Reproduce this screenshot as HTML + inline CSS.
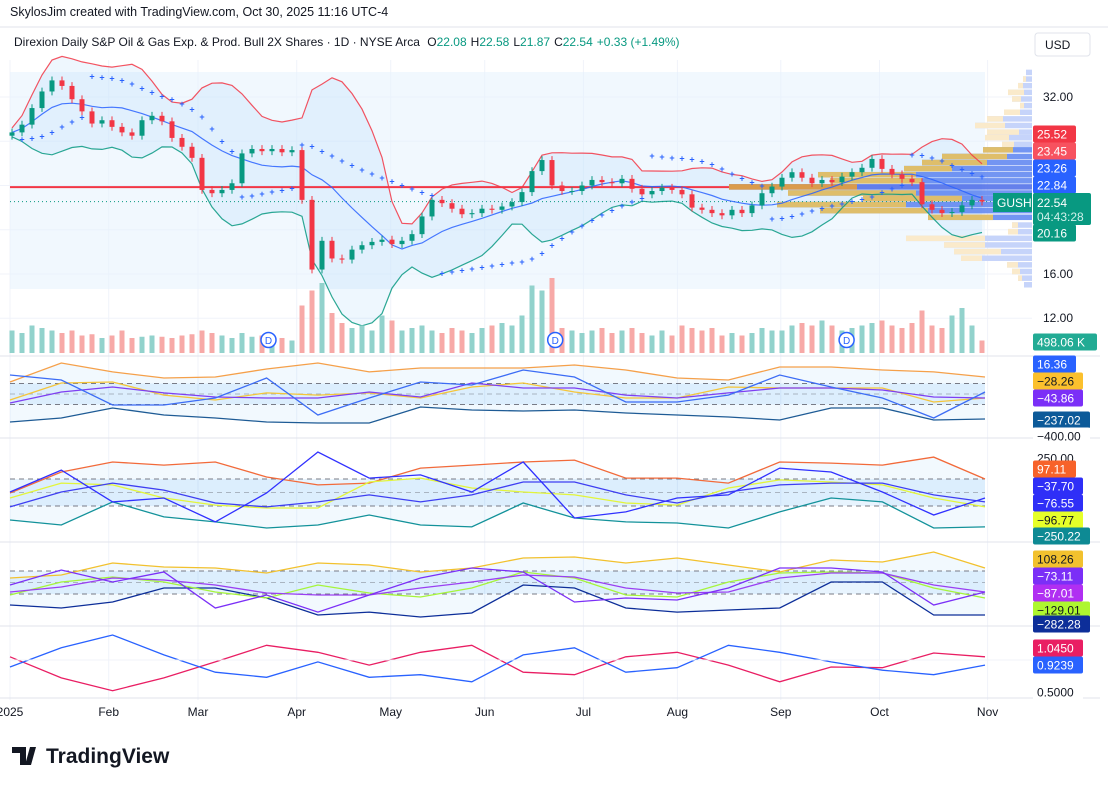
<!DOCTYPE html>
<html><head><meta charset="utf-8"><style>
body{margin:0;background:#fff;font-family:"Liberation Sans",sans-serif}
svg text{font-family:"Liberation Sans",sans-serif}
</style></head><body>
<svg id="c" width="1108" height="786" viewBox="0 0 1108 786" xmlns="http://www.w3.org/2000/svg">
<rect width="1108" height="786" fill="#fff"/>
<text x="10" y="16" font-size="12.5" fill="#131722">SkylosJim created with TradingView.com, Oct 30, 2025 11:16 UTC-4</text>
<line x1="0" y1="27" x2="1108" y2="27" stroke="#e0e3eb"/>
<text x="14" y="46" font-size="12" fill="#131722">Direxion Daily S&amp;P Oil &amp; Gas Exp. &amp; Prod. Bull 2X Shares · 1D · NYSE Arca <tspan dx="4">O</tspan><tspan fill="#089981">22.08</tspan><tspan dx="4">H</tspan><tspan fill="#089981">22.58</tspan><tspan dx="4">L</tspan><tspan fill="#089981">21.87</tspan><tspan dx="4">C</tspan><tspan fill="#089981">22.54</tspan><tspan dx="4" fill="#089981">+0.33 (+1.49%)</tspan></text>
<rect x="1035" y="33" width="55" height="23" rx="3" fill="#fff" stroke="#e0e3eb"/>
<text x="1045" y="49" font-size="12" fill="#131722">USD</text>
<g id="grid"></g>
<rect x="10" y="72" width="975" height="217" fill="#e3f2fd" opacity="0.5"/>
<g id="main"></g>
<g id="panes"></g>
<g id="axis"></g>
<g>
<path d="M12 747h14v18h-6v-12h-8z M30 747h6l-5 18h-6z" fill="#131722"/>
<text x="46" y="763" font-size="21" font-weight="bold" fill="#131722">TradingView</text>
</g>
</svg>
<script>
const closes=[28.8,29.5,31,32.5,33.5,33,31.8,30.7,29.6,29.9,29.3,28.8,28.5,29.9,30.3,29.8,28.3,27.5,26.5,23.6,23.3,23.6,24.2,26.9,27.3,27.1,27.3,27.0,27.2,22.7,16.4,19.0,17.4,17.3,18.2,18.6,18.9,19.1,18.7,19.0,19.6,21.2,22.7,22.4,21.9,21.4,21.5,21.9,21.8,22.1,22.5,23.4,25.3,26.3,24.0,23.5,23.5,24.0,24.5,24.3,24.2,24.6,23.7,23.2,23.5,23.8,23.6,23.2,22.0,21.8,21.5,21.3,21.8,21.5,22.2,23.3,23.9,24.7,25.2,24.7,24.2,24.5,24.3,24.8,25.2,25.6,26.4,25.5,25.0,24.6,24.3,22.3,21.8,21.5,21.6,22.2,22.7,22.54];
const volumes=[900,800,1100,1000,900,800,900,700,750,600,700,900,600,650,700,650,600,700,750,900,800,700,600,800,650,700,700,600,500,1900,2500,2800,1600,1200,1000,1100,900,1500,1300,900,1000,1100,900,800,1000,900,800,1000,1100,1200,1100,1500,2700,2500,3000,1000,900,800,900,1000,800,900,1000,800,700,900,700,1100,1000,900,1000,700,800,700,800,1000,900,900,1100,1200,1100,1300,1100,900,1000,1100,1200,1300,1100,1000,1200,1700,1100,1000,1500,1800,1100,500];
const priceTicks=[32,28,24,20,16,12];
const priceTickLabels=["32.00","","","","16.00","12.00"];
const monthLabels=["2025","Feb","Mar","Apr","May","Jun","Jul","Aug","Sep","Oct","Nov"];
const monthIdx=[0,21,40,61,81,101,122,142,164,185,208];
const dividendIdx=[55,116,178];
const vpPrice=[27.2,26.6,26.05,25.5,24.95,24.4,23.85,23.3,22.8,22.25,21.7,21.1];
const vpTotal=[49,90,110,128,214,202,303,244,169,255,212,104];
const vpOrange=[30,65,65,48,98,92,128,128,99,129,108,65];
const vpFaintPrice=[34.2,33.6,33.0,32.4,31.8,31.2,30.6,30.0,29.4,28.8,28.3,27.7,20.4,19.8,19.2,18.6,18.0,17.4,16.8,16.2,15.6,15.0];
const vpFaintTotal=[6,9,14,24,20,12,28,45,57,45,47,30,20,24,126,88,78,71,25,20,14,8];
const vpFaintOrange=[0,3,5,16,9,4,16,16,30,32,24,12,6,10,79,41,47,21,11,8,4,0];
const p1Upper=[114,295,210,152,162,238,295,210,248,248,248,276,229,152,133,257,257,229,210,162];
const p1Lower=[-267,-229,-133,-200,-229,-267,-276,-276,-124,-152,-162,-152,-181,-200,-219,-248,-133,-133,-248,-238];
const p1Yellow=[-57,105,114,-10,-57,10,-10,10,-38,67,105,19,-38,-38,67,57,57,57,-76,-38];
const p1Purple=[-86,19,67,10,-29,-38,-38,19,-29,105,57,57,-10,-38,10,57,57,38,-29,-38];
const p1Blue=[181,133,-105,-105,-38,152,-200,-38,114,86,229,162,-76,-76,-10,181,67,-38,-229,19];
const p2Upper=[-4,152,226,203,226,115,56,70,181,203,226,240,107,107,70,226,218,203,262,100];
const p2Lower=[-204,-241,-70,-181,-218,-263,-241,-167,-241,-255,-78,-189,-218,-226,-263,-144,-41,-70,-263,-255];
const p2Yellow=[-41,70,56,-41,-93,-115,-115,78,107,33,4,-18,-78,-93,33,93,78,56,-41,-107];
const p2Ma=[-107,4,70,18,-78,-107,-70,-18,-70,-18,78,78,-18,-78,4,56,70,70,-18,-70];
const p2Blue=[4,166,-70,-41,-218,-4,300,107,130,4,226,-189,-144,-41,-18,181,152,4,-167,-41];
const p3Upper=[39,65,170,135,126,83,170,152,91,126,213,222,170,213,152,91,196,178,265,126];
const p3Lower=[-196,-222,-170,-48,-48,-135,-283,-257,-300,-265,-22,-48,-222,-257,-239,-222,4,4,-283,-283];
const p3Lime=[-109,4,48,4,-83,-135,-22,-91,-126,-48,91,39,-109,-126,4,83,91,83,-48,-135];
const p3Purple=[-83,-39,39,22,-22,-91,-109,-109,-48,4,65,48,-48,-91,-83,39,83,83,-22,-83];
const p3Violet=[-22,109,4,91,-222,-109,-257,-109,39,126,91,-170,-135,-152,-48,126,126,91,-196,-83];
const p4Pink=[1.05,0.72,0.52,0.72,0.97,1.23,1.12,0.92,1.12,1.23,0.81,0.77,1.05,1.12,0.92,0.66,0.89,0.88,1.11,1.05];
const p4Blue=[0.89,1.19,1.39,1.08,0.81,0.73,0.97,0.73,0.77,0.66,1.08,1.19,0.81,0.88,1.23,1.12,0.97,0.84,0.77,0.92];

const NS="http://www.w3.org/2000/svg";
function mk(parent,tag,attrs){const e=document.createElementNS(NS,tag);for(const k in attrs)e.setAttribute(k,attrs[k]);parent.appendChild(e);return e;}
const G=document.getElementById('grid'),M=document.getElementById('main'),P=document.getElementById('panes'),A=document.getElementById('axis');
const xc=i=>12+10*i;
const xd=d=>10+d*4.7;
const py=p=>97+(32-p)*11.06;
const volY=v=>353-v*0.025;
const xi=i=>10+i*975/19;
const y1=v=>394-v*0.105, y2=v=>492.5-v*0.135, y3=v=>582.5-v*0.115, y4=v=>660-(v-1)*64;

monthIdx.forEach((d,k)=>{
  const l=mk(G,'line',{x1:xd(d),x2:xd(d),y1:60,y2:700,stroke:'#f0f3fa'});
  
  
  const t=mk(A,'text',{x:xd(d),y:716,'font-size':12,fill:'#131722','text-anchor':'middle'});
  t.textContent=monthLabels[k];
  
  
});
priceTicks.forEach((p,k)=>{
  const l=mk(G,'line',{x1:0,x2:1032,y1:py(p),y2:py(p),stroke:'#f0f3fa'});
  
  
  if(priceTickLabels[k]){const t=mk(A,'text',{x:1043,y:py(p)+4,'font-size':12,fill:'#131722'});t.textContent=priceTickLabels[k];
  
  }
});

const N=closes.length, per=10;
const up=[],mid=[],lo=[];
for(let i=0;i<N;i++){const s=closes.slice(Math.max(0,i-per+1),i+1);const m=s.reduce((a,b)=>a+b,0)/s.length;const sd=Math.sqrt(s.reduce((a,b)=>a+(b-m)*(b-m),0)/s.length);mid.push(m);up.push(m+2.2*sd+0.4);lo.push(m-2.2*sd-0.4);}
const pts=(arr,fx,fy)=>arr.map((v,i)=>fx(i).toFixed(1)+','+fy(v).toFixed(1)).join(' ');
const bbFill=mk(M,'polygon',{points:pts(up,xc,py)+' '+lo.map((v,i)=>xc(i)+','+py(v)).reverse().join(' '),fill:'#2196f3','fill-opacity':0.08});


vpFaintPrice.forEach((p,k)=>{const y=py(p)-3;
  const b=mk(M,'rect',{x:1032-vpFaintTotal[k],y:y,width:vpFaintTotal[k],height:5.5,fill:'#c6d4fa'});
  
  
  const o=mk(M,'rect',{x:1032-vpFaintTotal[k],y:y,width:vpFaintOrange[k],height:5.5,fill:'#faeacb'});
  
  
});
vpPrice.forEach((p,k)=>{const y=py(p)-3;
  const b=mk(M,'rect',{x:1032-vpTotal[k],y:y,width:vpTotal[k],height:5.5,fill:k==6?'#4a6ae8':'#5b82f0',opacity:0.85});
  
  
  const o=mk(M,'rect',{x:1032-vpTotal[k],y:y,width:vpOrange[k],height:5.5,fill:k==6?'#f0a030':'#f2c553',opacity:0.85});
  
  
});
const poc=mk(M,'line',{x1:10,x2:1032-vpTotal[6],y1:py(vpPrice[6]),y2:py(vpPrice[6]),stroke:'#f23645','stroke-width':2});


const lp=mk(M,'line',{x1:10,x2:1032,y1:py(closes[N-1]),y2:py(closes[N-1]),stroke:'#089981','stroke-dasharray':'1 3'});


[[up,'#f23645','bb-upper'],[mid,'#2962ff','bb-basis'],[lo,'#089981','bb-lower']].forEach(([a,c,n])=>{
  const l=mk(M,'polyline',{points:pts(a,xc,py),fill:'none',stroke:c,'stroke-width':1.2,opacity:0.85});
  
  
});
const hi=[],lw=[];
for(let i=0;i<N;i++){const o=i?closes[i-1]:closes[0]-0.3,c=closes[i];hi.push(Math.max(o,c)+0.35);lw.push(Math.min(o,c)-0.35);
  const g=c>=o;
  const vb=mk(M,'rect',{x:xc(i)-2.5,y:volY(volumes[i]),width:5,height:353-volY(volumes[i]),fill:g?'#92d2cc':'#f7a9a7'});
  
  
}
for(let i=0;i<N;i++){const o=i?closes[i-1]:closes[0]-0.3,c=closes[i],g=c>=o,col=g?'#089981':'#f23645';
  const w=mk(M,'line',{x1:xc(i),x2:xc(i),y1:py(hi[i]),y2:py(lw[i]),stroke:col});
  
  
  const b=mk(M,'rect',{x:xc(i)-2.5,y:py(Math.max(o,c)),width:5,height:Math.max(1,Math.abs(py(o)-py(c))),fill:col});
  
  
}
let bull=true,af=0.02,ep=hi[0],sar=lw[0];
for(let i=1;i<N;i++){sar=sar+af*(ep-sar);
  if(bull){if(lw[i]<sar){bull=false;sar=ep;ep=lw[i];af=0.02;}else if(hi[i]>ep){ep=hi[i];af=Math.min(0.2,af+0.02);}}
  else{if(hi[i]>sar){bull=true;sar=ep;ep=hi[i];af=0.02;}else if(lw[i]<ep){ep=lw[i];af=Math.min(0.2,af+0.02);}}
  const t=mk(M,'text',{x:xc(i),y:py(sar)+3,'font-size':9,'font-weight':'bold',fill:'#2962ff','text-anchor':'middle'});t.textContent='+';
  
  
}
dividendIdx.forEach(d=>{const g=mk(M,'g',{});
  
  
  mk(g,'circle',{cx:xd(d),cy:340,r:7.5,fill:'#fff',stroke:'#2962ff','stroke-width':1.5});
  const t=mk(g,'text',{x:xd(d),y:344,'font-size':10,fill:'#2962ff','text-anchor':'middle'});t.textContent='D';});

function pane(top,bot,ys,upper,lower,dash,lines,name){
  const g=mk(P,'g',{});
  
  
  mk(g,'line',{x1:0,x2:1100,y1:bot,y2:bot,stroke:'#e0e3eb'});
  if(upper){mk(g,'polygon',{points:pts(upper,xi,ys)+' '+lower.map((v,i)=>xi(i)+','+ys(v)).reverse().join(' '),fill:'#2196f3','fill-opacity':0.06});}
  if(dash){mk(g,'rect',{x:10,y:ys(dash),width:975,height:ys(-dash)-ys(dash),fill:'#2196f3','fill-opacity':0.1});
    [dash,0,-dash].forEach((d,k)=>mk(g,'line',{x1:10,x2:985,y1:ys(d),y2:ys(d),stroke:'#787b86','stroke-dasharray':'5 4',opacity:k==1?0.5:1}));}
  lines.forEach(([a,c,n])=>{const l=mk(g,'polyline',{points:pts(a,xi,ys),fill:'none',stroke:c,'stroke-width':1.3});
    
    });
}
mk(P,'line',{x1:0,x2:1100,y1:356,y2:356,stroke:'#e0e3eb'});
pane(357,438,y1,p1Upper,p1Lower,100,[[p1Upper,'#f5a04a','cci-upper'],[p1Lower,'#1e5b95','cci-lower'],[p1Yellow,'#f5c53a','cci-signal'],[p1Purple,'#7e3ff2','cci-ma'],[p1Blue,'#3c6cf5','cci']],'pane-cci');
pane(439,542,y2,p2Upper,p2Lower,100,[[p2Upper,'#f26a3a','osc2-upper'],[p2Lower,'#13929a','osc2-lower'],[p2Yellow,'#e3f53a','osc2-signal'],[p2Ma,'#3e3ef2','osc2-ma'],[p2Blue,'#3030ff','osc2']],'pane-osc2');
pane(543,626,y3,p3Upper,p3Lower,100,[[p3Upper,'#f2c12e','osc3-upper'],[p3Lower,'#0d2e99','osc3-lower'],[p3Lime,'#a6f53a','osc3-signal'],[p3Purple,'#9a3ff2','osc3-ma'],[p3Violet,'#7b2ff7','osc3']],'pane-osc3');
pane(627,698,y4,null,null,0,[[p4Pink,'#e91e63','ratio-a'],[p4Blue,'#2962ff','ratio-b']],'pane-ratio');
mk(P,'line',{x1:10,x2:1032,y1:660,y2:660,stroke:'#f0f3fa'});

const labels=[[134,'25.52','#f23645','#fff'],[151,'23.45','#f7525f','#fff'],[168,'23.26','#2962ff','#fff'],[185,'22.84','#2962ff','#fff'],[233,'20.16','#089981','#fff'],[342,'498.06 K','#22ab94','#fff'],
[364,'16.36','#2962ff','#fff'],[381,'−28.26','#fbc02d','#131722'],[398,'−43.86','#7b2ff7','#fff'],[420,'−237.02','#0c5a99','#fff'],[436,'−400.00','#fff','#131722'],
[458,'250.00','#fff','#131722'],[469,'97.11','#f7622a','#fff'],[486,'−37.70','#2f2ff7','#fff'],[503,'−76.55','#2f2ff7','#fff'],[520,'−96.77','#e6ff29','#131722'],[536,'−250.22','#0e8a94','#fff'],
[559,'108.26','#f2c12e','#131722'],[576,'−73.11','#7b2ff7','#fff'],[593,'−87.01','#b02ff2','#fff'],[610,'−129.01','#aef72f','#131722'],[624,'−282.28','#0d2e99','#fff'],
[648,'1.0450','#e91e63','#fff'],[665,'0.9239','#2962ff','#fff'],[692,'0.5000','#fff','#131722']];
labels.forEach(([y,t,bg,fg])=>{const w=t.length*7+8;
  const r=mk(A,'rect',{x:1033,y:y-8.5,width:w,height:17,rx:2,fill:bg});
  
  
  const s=mk(A,'text',{x:1037,y:y+4.5,'font-size':12,fill:fg});s.textContent=t;
  
  });
const gb=mk(A,'rect',{x:993,y:193,width:39,height:19,fill:'#089981'});


const gt=mk(A,'text',{x:997,y:207,'font-size':12,fill:'#fff'});gt.textContent='GUSH';


const pb=mk(A,'rect',{x:1033,y:193,width:58,height:32,rx:2,fill:'#089981'});


const pt=mk(A,'text',{x:1037,y:207,'font-size':12,fill:'#fff'});pt.textContent='22.54';


const ct=mk(A,'text',{x:1037,y:221,'font-size':12,fill:'#d0f0ea'});ct.textContent='04:43:28';


</script>
</body></html>
